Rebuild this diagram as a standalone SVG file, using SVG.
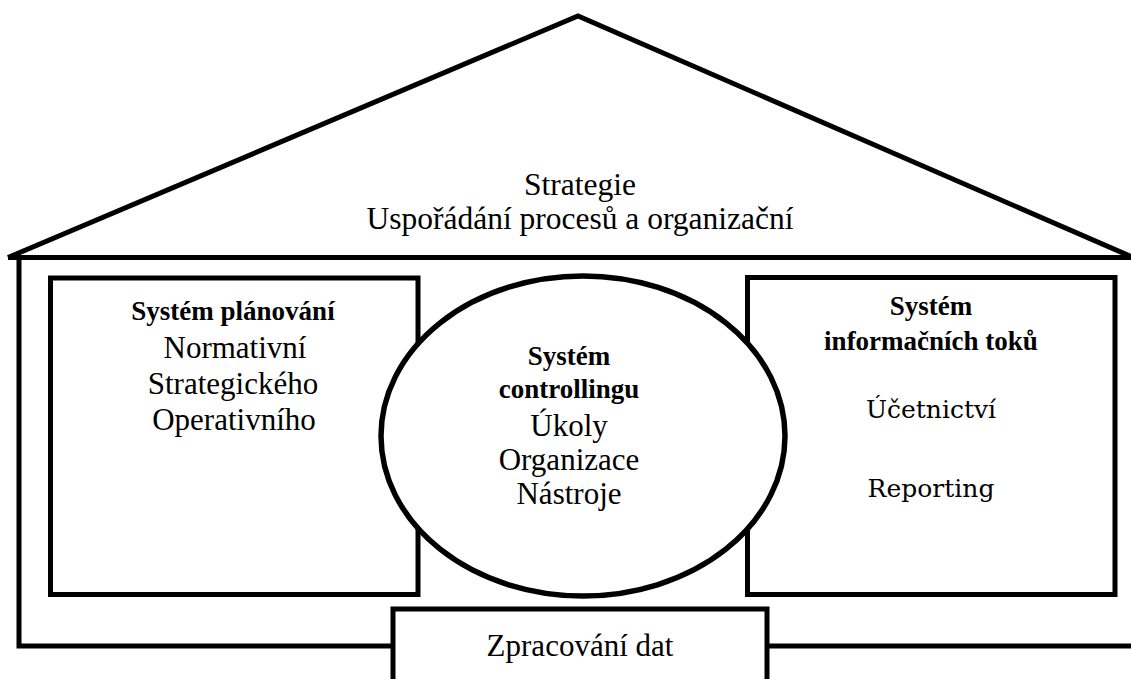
<svg xmlns="http://www.w3.org/2000/svg" width="1131" height="679" viewBox="0 0 1131 679">
<style>
.ln{fill:none;stroke:#000;stroke-width:5;stroke-linejoin:miter}
.bx{fill:#fff;stroke:#000;stroke-width:5}
.t{font-family:"Liberation Serif","Times New Roman",serif;font-size:31px;fill:#000;text-anchor:middle}
.b{font-weight:bold;font-size:27px}
.c{font-family:"DejaVu Serif","Liberation Serif",serif;font-size:25px;fill:#000;text-anchor:middle}
</style>
<rect width="1131" height="679" fill="#fff"/>
<g id="roof">
<path class="ln" d="M8,257.5 L578,16 L1131,256.5 M8,257.5 H1131"/>
<text class="t" x="580" y="195" style="font-size:31.5px">Strategie</text>
<text class="t" x="580" y="229" style="font-size:31.5px">Uspořádání procesů a organizační</text>
</g>
<g id="walls">
<path class="ln" d="M19,257 V646 H393 M767,646 H1131"/>
</g>
<g id="planovani">
<rect class="bx" x="50.5" y="278" width="367.5" height="316.5"/>
<text class="t b" x="233" y="320">Systém plánování</text>
<text class="t" x="235" y="358">Normativní</text>
<text class="t" x="233" y="394">Strategického</text>
<text class="t" x="234" y="430">Operativního</text>
</g>
<g id="informace">
<rect class="bx" x="747.5" y="277.5" width="367.5" height="317"/>
<text class="t b" x="931" y="315">Systém</text>
<text class="t b" x="931" y="350">informačních toků</text>
<text class="c" x="931" y="418">Účetnictví</text>
<text class="c" x="931" y="497">Reporting</text>
</g>
<g id="controlling">
<ellipse class="bx" cx="583" cy="436" rx="202" ry="160" style="stroke-width:5.5"/>
<text class="t b" x="569" y="365">Systém</text>
<text class="t b" x="569" y="398">controllingu</text>
<text class="t" x="569" y="436">Úkoly</text>
<text class="t" x="569" y="470">Organizace</text>
<text class="t" x="569" y="504">Nástroje</text>
</g>
<g id="zpracovani">
<path class="bx" d="M393,682 V609 H767 V682"/>
<text class="t" x="580" y="656">Zpracování dat</text>
</g>
</svg>
